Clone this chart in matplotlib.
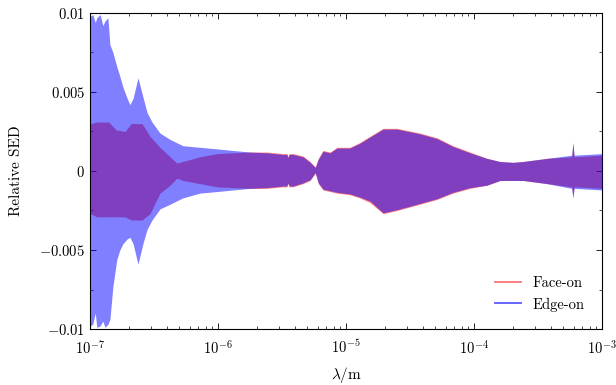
import matplotlib
matplotlib.use("Agg")
import matplotlib.pyplot as plt
from matplotlib.lines import Line2D
from matplotlib.ticker import FixedLocator, LogLocator, NullFormatter, MultipleLocator

plt.rcParams['font.family'] = 'serif'
plt.rcParams['font.serif'] = ['cmr10']
plt.rcParams['mathtext.fontset'] = 'cm'
plt.rcParams['axes.unicode_minus'] = False

# Face-on envelope (upper / lower bounds of the oscillating relative SED)
lam_face = [1.000e-7, 1.008e-7, 1.13e-7, 1.40e-7, 1.60e-7, 1.88e-7, 2.10e-7, 2.55e-7, 2.94e-7,
            3.52e-7, 4.22e-7, 4.78e-7, 5.32e-7, 7.22e-7, 9.83e-7, 1.31e-6, 1.78e-6, 2.41e-6,
            3.21e-6, 3.45e-6, 3.52e-6, 3.60e-6, 3.86e-6, 4.61e-6, 5.24e-6, 5.75e-6, 6.08e-6,
            6.61e-6, 7.50e-6, 8.50e-6, 1.07e-5, 1.28e-5, 1.54e-5, 1.95e-5, 2.50e-5, 3.79e-5,
            5.14e-5, 6.85e-5, 9.30e-5, 1.26e-4, 1.60e-4, 2.02e-4, 2.41e-4, 3.72e-4, 5.80e-4,
            5.93e-4, 6.05e-4, 1.00e-3]
face_hi = [0.0058, 0.0030, 0.0031, 0.0031, 0.0026, 0.0025, 0.0030, 0.0030, 0.0022,
           0.0015, 0.0009, 0.0005, 0.0006, 0.0009, 0.0011, 0.00115, 0.0012, 0.0012,
           0.0011, 0.0011, 0.0009, 0.0011, 0.0011, 0.00095, 0.0006, 0.00026, 0.0008,
           0.0013, 0.0012, 0.0015, 0.0015, 0.0018, 0.0022, 0.0027, 0.0027, 0.0024,
           0.0021, 0.0016, 0.0012, 0.0008, 0.0006, 0.00055, 0.0006, 0.0008, 0.0009,
           0.0018, 0.0009, 0.0010]
face_lo = [-0.0058, -0.0027, -0.0029, -0.0029, -0.0029, -0.0029, -0.0031, -0.0031, -0.0027,
           -0.0014, -0.0009, -0.00045, -0.0006, -0.0008, -0.0010, -0.00105, -0.0011, -0.0011,
           -0.0010, -0.0010, -0.0008, -0.0010, -0.0010, -0.0008, -0.0006, -0.00015, -0.0008,
           -0.0012, -0.0013, -0.0014, -0.0015, -0.0017, -0.0020, -0.0027, -0.0025, -0.0021,
           -0.0018, -0.0014, -0.0011, -0.0009, -0.0006, -0.0006, -0.0006, -0.0008, -0.0010,
           -0.0017, -0.0010, -0.0011]

# Edge-on envelope
lam_edge = [1.008e-7, 1.05e-7, 1.10e-7, 1.13e-7, 1.20e-7, 1.26e-7, 1.31e-7, 1.38e-7, 1.43e-7,
            1.51e-7, 1.62e-7, 1.71e-7, 1.81e-7, 1.95e-7, 2.05e-7, 2.17e-7, 2.37e-7, 2.59e-7,
            2.79e-7, 3.05e-7, 3.52e-7, 4.22e-7, 5.32e-7, 7.22e-7, 9.83e-7, 1.31e-6, 1.78e-6,
            2.41e-6, 3.21e-6, 3.45e-6, 3.52e-6, 3.60e-6, 3.86e-6, 4.61e-6, 5.24e-6, 5.75e-6,
            6.08e-6, 6.61e-6, 7.50e-6, 8.50e-6, 1.07e-5, 1.28e-5, 1.54e-5, 1.95e-5, 2.50e-5,
            3.79e-5, 5.14e-5, 6.85e-5, 9.30e-5, 1.26e-4, 1.60e-4, 2.02e-4, 2.41e-4, 3.72e-4,
            5.80e-4, 5.93e-4, 6.05e-4, 1.00e-3]
edge_hi = [0.0098, 0.0099, 0.0094, 0.0097, 0.0099, 0.0092, 0.0095, 0.0097, 0.0080,
           0.0075, 0.0066, 0.0060, 0.0053, 0.0046, 0.0042, 0.0046, 0.0059, 0.0047,
           0.0037, 0.0031, 0.0024, 0.0020, 0.0016, 0.0015, 0.0014, 0.0013, 0.0012,
           0.00115, 0.00105, 0.00105, 0.00085, 0.00105, 0.00105, 0.0009, 0.00055, 0.00022,
           0.00075, 0.00125, 0.00115, 0.00145, 0.00145, 0.00175, 0.00215, 0.00265, 0.00265,
           0.00235, 0.00205, 0.00155, 0.00115, 0.0008, 0.0006, 0.00055, 0.0006, 0.0008,
           0.0010, 0.0018, 0.0010, 0.0011]
edge_lo = [-0.0098, -0.0097, -0.0090, -0.0099, -0.0098, -0.0095, -0.0099, -0.0097, -0.0094,
           -0.0073, -0.0056, -0.0050, -0.0046, -0.0043, -0.0042, -0.0046, -0.0059, -0.0046,
           -0.0037, -0.0031, -0.0024, -0.0021, -0.0017, -0.0014, -0.0013, -0.0012, -0.0011,
           -0.00105, -0.00095, -0.00095, -0.00075, -0.00095, -0.00095, -0.00075, -0.00055, -0.0001,
           -0.00075, -0.00115, -0.00125, -0.00135, -0.00145, -0.00165, -0.0019, -0.00265, -0.00245,
           -0.00205, -0.00175, -0.00135, -0.00105, -0.0009, -0.0006, -0.0006, -0.0006, -0.0008,
           -0.0011, -0.0017, -0.0011, -0.0012]

xticks = [1e-7, 1e-6, 1e-5, 1e-4, 1e-3]
xticklabels = [r'$10^{-7}$', r'$10^{-6}$', r'$10^{-5}$', r'$10^{-4}$', r'$10^{-3}$']
yticks = [-0.01, -0.005, 0.0, 0.005, 0.01]
yticklabels = [r'$-0.01$', r'$-0.005$', r'$0$', r'$0.005$', r'$0.01$']
series_labels = ['Face-on', 'Edge-on']

fig = plt.figure(figsize=(6.16, 3.85), dpi=100)
ax = fig.add_axes([90/616, 1-329/385, 512/616, 316/385])

ax.fill_between(lam_face, face_lo, face_hi, color='red', alpha=0.5, lw=0, zorder=2)
ax.fill_between(lam_edge, edge_lo, edge_hi, color='blue', alpha=0.5, lw=0, zorder=3)

ax.set_xscale('log')
ax.set_xlim(1e-7, 1e-3)
ax.set_ylim(-0.01, 0.01)
ax.xaxis.set_major_locator(FixedLocator(xticks))
ax.set_xticklabels(xticklabels)
ax.xaxis.set_minor_locator(LogLocator(base=10, subs=range(2, 10), numticks=20))
ax.xaxis.set_minor_formatter(NullFormatter())
ax.yaxis.set_major_locator(FixedLocator(yticks))
ax.set_yticklabels(yticklabels)
ax.yaxis.set_minor_locator(MultipleLocator(0.0025))

ax.tick_params(which='both', direction='in', top=True, right=True, labelsize=10.5)
ax.tick_params(which='major', length=4, width=0.6)
ax.tick_params(which='minor', length=2.5, width=0.5)
ax.tick_params(axis='x', which='major', pad=7)
for s in ax.spines.values():
    s.set_linewidth(0.8)

ax.set_xlabel(r'$\lambda$/m', fontsize=11, labelpad=6)
ax.set_ylabel('Relative SED', fontsize=11, labelpad=12)

handles = [Line2D([], [], color='red', alpha=0.55, lw=1.3),
           Line2D([], [], color='blue', alpha=0.65, lw=1.3)]
ax.legend(handles, series_labels, loc='lower right', frameon=False, fontsize=10.5,
          handlelength=1.8, borderaxespad=0.8, labelspacing=0.5)

fig.savefig('out.png', dpi=100)
